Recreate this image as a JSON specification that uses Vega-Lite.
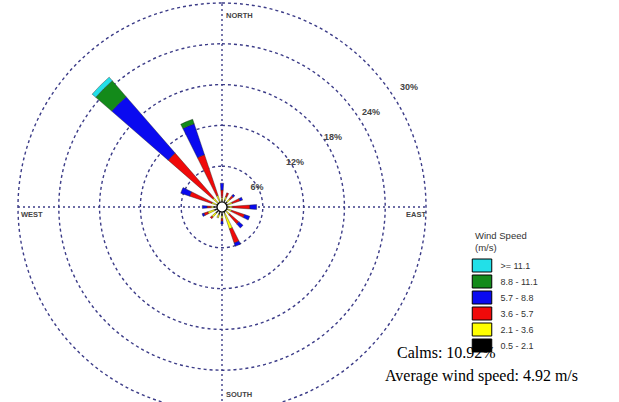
{
  "$schema": "https://vega.github.io/schema/vega-lite/v6.json",
  "width": 619,
  "height": 402,
  "autosize": "none",
  "padding": 0,
  "background": "white",
  "resolve": {"scale": {"radius": "independent"}},
  "config": {
    "view": {"stroke": null},
    "font": "Liberation Sans",
    "legend": {
      "orient": "none",
      "legendX": 475,
      "legendY": 231,
      "titleFontSize": 9.5,
      "titleFontWeight": "normal",
      "titleColor": "#333333",
      "titleLineHeight": 12,
      "titlePadding": 6,
      "labelFontSize": 9,
      "labelColor": "#333333",
      "labelOffset": 11.5,
      "symbolType": "M-1.5,-1H1.5V1H-1.5Z",
      "symbolSize": 169,
      "symbolStrokeColor": "black",
      "symbolStrokeWidth": 1,
      "rowPadding": -2.2
    }
  },
  "title": {
    "text": "\u200b\u00a0\u00a0\u00a0Calms: 10.92%",
    "subtitle": "Average wind speed: 4.92 m/s",
    "anchor": "start",
    "frame": "group",
    "orient": "bottom",
    "dx": 385,
    "dy": -69,
    "offset": 0,
    "font": "Liberation Serif",
    "fontSize": 16,
    "fontWeight": "normal",
    "color": "black",
    "subtitleFont": "Liberation Serif",
    "subtitleFontSize": 16,
    "subtitleColor": "black",
    "subtitlePadding": 7
  },
  "datasets": {
    "petals": [
      {"dir": 0, "cls": "0.5 - 2.1", "pct": 0.9},
      {"dir": 0, "cls": "2.1 - 3.6", "pct": 0.5},
      {"dir": 0, "cls": "3.6 - 5.7", "pct": 1.1},
      {"dir": 0, "cls": "5.7 - 8.8", "pct": 1.0},
      {"dir": 22.5, "cls": "0.5 - 2.1", "pct": 1.1},
      {"dir": 22.5, "cls": "2.1 - 3.6", "pct": 0.5},
      {"dir": 22.5, "cls": "3.6 - 5.7", "pct": 0.6},
      {"dir": 45, "cls": "0.5 - 2.1", "pct": 1.0},
      {"dir": 45, "cls": "2.1 - 3.6", "pct": 0.6},
      {"dir": 45, "cls": "3.6 - 5.7", "pct": 0.6},
      {"dir": 45, "cls": "5.7 - 8.8", "pct": 0.3},
      {"dir": 67.5, "cls": "0.5 - 2.1", "pct": 0.9},
      {"dir": 67.5, "cls": "2.1 - 3.6", "pct": 0.7},
      {"dir": 67.5, "cls": "3.6 - 5.7", "pct": 1.2},
      {"dir": 67.5, "cls": "5.7 - 8.8", "pct": 0.4},
      {"dir": 90, "cls": "0.5 - 2.1", "pct": 0.9},
      {"dir": 90, "cls": "2.1 - 3.6", "pct": 0.6},
      {"dir": 90, "cls": "3.6 - 5.7", "pct": 2.6},
      {"dir": 90, "cls": "5.7 - 8.8", "pct": 1.0},
      {"dir": 112.5, "cls": "0.5 - 2.1", "pct": 0.9},
      {"dir": 112.5, "cls": "2.1 - 3.6", "pct": 0.6},
      {"dir": 112.5, "cls": "3.6 - 5.7", "pct": 2.0},
      {"dir": 112.5, "cls": "5.7 - 8.8", "pct": 0.8},
      {"dir": 135, "cls": "0.5 - 2.1", "pct": 0.8},
      {"dir": 135, "cls": "2.1 - 3.6", "pct": 0.7},
      {"dir": 135, "cls": "3.6 - 5.7", "pct": 1.8},
      {"dir": 135, "cls": "5.7 - 8.8", "pct": 0.8},
      {"dir": 157.5, "cls": "0.5 - 2.1", "pct": 1.0},
      {"dir": 157.5, "cls": "2.1 - 3.6", "pct": 2.4},
      {"dir": 157.5, "cls": "3.6 - 5.7", "pct": 2.2},
      {"dir": 157.5, "cls": "5.7 - 8.8", "pct": 0.5},
      {"dir": 180, "cls": "0.5 - 2.1", "pct": 1.3},
      {"dir": 180, "cls": "2.1 - 3.6", "pct": 0.4},
      {"dir": 180, "cls": "3.6 - 5.7", "pct": 0.4},
      {"dir": 180, "cls": "5.7 - 8.8", "pct": 0.4},
      {"dir": 202.5, "cls": "0.5 - 2.1", "pct": 1.2},
      {"dir": 202.5, "cls": "2.1 - 3.6", "pct": 0.5},
      {"dir": 225, "cls": "0.5 - 2.1", "pct": 1.2},
      {"dir": 225, "cls": "2.1 - 3.6", "pct": 0.8},
      {"dir": 225, "cls": "3.6 - 5.7", "pct": 0.3},
      {"dir": 247.5, "cls": "0.5 - 2.1", "pct": 1.2},
      {"dir": 247.5, "cls": "2.1 - 3.6", "pct": 1.0},
      {"dir": 247.5, "cls": "3.6 - 5.7", "pct": 0.6},
      {"dir": 247.5, "cls": "5.7 - 8.8", "pct": 0.3},
      {"dir": 270, "cls": "0.5 - 2.1", "pct": 1.2},
      {"dir": 270, "cls": "2.1 - 3.6", "pct": 0.4},
      {"dir": 270, "cls": "3.6 - 5.7", "pct": 0.6},
      {"dir": 270, "cls": "5.7 - 8.8", "pct": 0.7},
      {"dir": 292.5, "cls": "0.5 - 2.1", "pct": 0.9},
      {"dir": 292.5, "cls": "2.1 - 3.6", "pct": 0.7},
      {"dir": 292.5, "cls": "3.6 - 5.7", "pct": 3.4},
      {"dir": 292.5, "cls": "5.7 - 8.8", "pct": 1.4},
      {"dir": 315, "cls": "0.5 - 2.1", "pct": 0.8},
      {"dir": 315, "cls": "2.1 - 3.6", "pct": 1.0},
      {"dir": 315, "cls": "3.6 - 5.7", "pct": 8.7},
      {"dir": 315, "cls": "5.7 - 8.8", "pct": 11.0},
      {"dir": 315, "cls": "8.8 - 11.1", "pct": 3.1},
      {"dir": 315, "cls": ">= 11.1", "pct": 0.7},
      {"dir": 337.5, "cls": "0.5 - 2.1", "pct": 0.9},
      {"dir": 337.5, "cls": "2.1 - 3.6", "pct": 0.9},
      {"dir": 337.5, "cls": "3.6 - 5.7", "pct": 6.3},
      {"dir": 337.5, "cls": "5.7 - 8.8", "pct": 4.8},
      {"dir": 337.5, "cls": "8.8 - 11.1", "pct": 0.7}
    ],
    "rings": [
      {"ring": 6, "label": "6%"},
      {"ring": 12, "label": "12%"},
      {"ring": 18, "label": "18%"},
      {"ring": 24, "label": "24%"},
      {"ring": 30, "label": "30%"}
    ],
    "compass": [
      {"label": "NORTH", "dir": 0},
      {"label": "EAST", "dir": 90},
      {"label": "SOUTH", "dir": 180},
      {"label": "WEST", "dir": 270}
    ],
    "axes": [{"a": -30, "b": 30}]
  },
  "layer": [
    {
      "data": {"name": "axes"},
      "mark": {"type": "rule", "stroke": "#3c3c88", "strokeDash": [2, 3], "strokeWidth": 1.4},
      "encoding": {
        "x": {"field": "a", "type": "quantitative", "scale": {"domain": [-32.647, 58.382], "nice": false, "zero": false}, "axis": null},
        "x2": {"field": "b"},
        "y": {"datum": 0, "type": "quantitative", "scale": {"domain": [-28.676, 30.441], "nice": false, "zero": false}, "axis": null}
      }
    },
    {
      "data": {"name": "axes"},
      "mark": {"type": "rule", "stroke": "#3c3c88", "strokeDash": [2, 3], "strokeWidth": 1.4},
      "encoding": {
        "y": {"field": "a", "type": "quantitative", "scale": {"domain": [-28.676, 30.441], "nice": false, "zero": false}, "axis": null},
        "y2": {"field": "b"},
        "x": {"datum": 0, "type": "quantitative", "scale": {"domain": [-32.647, 58.382], "nice": false, "zero": false}, "axis": null}
      }
    },
    {
      "data": {"name": "rings"},
      "mark": {"type": "arc", "theta": 0, "theta2": 6.2832, "fillOpacity": 0, "stroke": "#3c3c88", "strokeDash": [3, 3], "strokeWidth": 1.4},
      "encoding": {
        "x": {"datum": 0, "type": "quantitative", "scale": {"domain": [-32.647, 58.382], "nice": false, "zero": false}, "axis": null},
        "y": {"datum": 0, "type": "quantitative", "scale": {"domain": [-28.676, 30.441], "nice": false, "zero": false}, "axis": null},
        "radius": {"field": "ring", "type": "quantitative", "stack": null, "scale": {"type": "linear", "domain": [0, 30], "range": [0, 204], "zero": true, "nice": false}}
      }
    },
    {
      "data": {"name": "petals"},
      "transform": [
        {"stack": "pct", "groupby": ["dir"], "sort": [{"field": "cls", "order": "ascending"}], "as": ["r0", "r1"]}
      ],
      "mark": {"type": "arc", "thetaOffset": -0.07, "theta2Offset": 0.07, "stroke": "#222222", "strokeWidth": 0.4},
      "encoding": {
        "x": {"datum": 0, "type": "quantitative", "scale": {"domain": [-32.647, 58.382], "nice": false, "zero": false}, "axis": null},
        "y": {"datum": 0, "type": "quantitative", "scale": {"domain": [-28.676, 30.441], "nice": false, "zero": false}, "axis": null},
        "theta": {"field": "dir", "type": "quantitative", "stack": null, "scale": {"type": "linear", "domain": [0, 360], "range": [0, 6.283185], "zero": true, "nice": false}},
        "theta2": {"field": "dir"},
        "radius": {"field": "r1", "type": "quantitative", "stack": null, "scale": {"type": "linear", "domain": [0, 30], "range": [0, 204], "zero": true, "nice": false}},
        "radius2": {"field": "r0"},
        "color": {
          "field": "cls",
          "type": "nominal",
          "title": ["Wind Speed", "(m/s)"],
          "scale": {
            "domain": [">= 11.1", "8.8 - 11.1", "5.7 - 8.8", "3.6 - 5.7", "2.1 - 3.6", "0.5 - 2.1"],
            "range": ["#22e0e8", "#138a1a", "#0a0af0", "#f00a0a", "#ffff00", "#000000"]
          }
        }
      }
    },
    {
      "data": {"values": [{"calms": 10.92}]},
      "mark": {"type": "arc", "theta": 0, "theta2": 6.2832, "radius": 5, "fill": "white", "stroke": "black", "strokeWidth": 1.2},
      "encoding": {
        "x": {"datum": 0, "type": "quantitative", "scale": {"domain": [-32.647, 58.382], "nice": false, "zero": false}, "axis": null},
        "y": {"datum": 0, "type": "quantitative", "scale": {"domain": [-28.676, 30.441], "nice": false, "zero": false}, "axis": null}
      }
    },
    {
      "data": {"name": "rings"},
      "mark": {"type": "text", "theta": 0.99, "dx": -3, "dy": 5, "fontSize": 9, "fontWeight": "bold", "fill": "#444444", "align": "center", "baseline": "middle"},
      "encoding": {
        "x": {"datum": 0, "type": "quantitative", "scale": {"domain": [-32.647, 58.382], "nice": false, "zero": false}, "axis": null},
        "y": {"datum": 0, "type": "quantitative", "scale": {"domain": [-28.676, 30.441], "nice": false, "zero": false}, "axis": null},
        "radius": {"field": "ring", "type": "quantitative", "stack": null, "scale": {"type": "linear", "domain": [0, 30], "range": [0, 227.4], "zero": true, "nice": false}},
        "text": {"field": "label"}
      }
    },
    {
      "data": {"name": "compass"},
      "transform": [{"filter": "datum.label === 'NORTH'"}],
      "mark": {"type": "text", "align": "left", "baseline": "middle", "dx": 4, "dy": 1, "fontSize": 7.5, "fontWeight": "bold", "fill": "#444444"},
      "encoding": {
        "x": {"datum": 0, "type": "quantitative", "scale": {"domain": [-32.647, 58.382], "nice": false, "zero": false}, "axis": null},
        "y": {"datum": 0, "type": "quantitative", "scale": {"domain": [-28.676, 30.441], "nice": false, "zero": false}, "axis": null},
        "theta": {"field": "dir", "type": "quantitative", "scale": {"type": "linear", "domain": [0, 360], "range": [0, 6.283185], "zero": true, "nice": false}},
        "radius": {"datum": 28.3, "type": "quantitative", "scale": {"type": "linear", "domain": [0, 30], "range": [0, 204], "zero": true, "nice": false}},
        "text": {"field": "label"}
      }
    },
    {
      "data": {"name": "compass"},
      "transform": [{"filter": "datum.label === 'SOUTH'"}],
      "mark": {"type": "text", "align": "left", "baseline": "middle", "dx": 4, "dy": -4, "fontSize": 7.5, "fontWeight": "bold", "fill": "#444444"},
      "encoding": {
        "x": {"datum": 0, "type": "quantitative", "scale": {"domain": [-32.647, 58.382], "nice": false, "zero": false}, "axis": null},
        "y": {"datum": 0, "type": "quantitative", "scale": {"domain": [-28.676, 30.441], "nice": false, "zero": false}, "axis": null},
        "theta": {"field": "dir", "type": "quantitative", "scale": {"type": "linear", "domain": [0, 360], "range": [0, 6.283185], "zero": true, "nice": false}},
        "radius": {"datum": 28.3, "type": "quantitative", "scale": {"type": "linear", "domain": [0, 30], "range": [0, 204], "zero": true, "nice": false}},
        "text": {"field": "label"}
      }
    },
    {
      "data": {"name": "compass"},
      "transform": [{"filter": "datum.label === 'WEST'"}],
      "mark": {"type": "text", "align": "left", "baseline": "middle", "dx": 3, "dy": 8, "fontSize": 7.5, "fontWeight": "bold", "fill": "#444444"},
      "encoding": {
        "x": {"datum": 0, "type": "quantitative", "scale": {"domain": [-32.647, 58.382], "nice": false, "zero": false}, "axis": null},
        "y": {"datum": 0, "type": "quantitative", "scale": {"domain": [-28.676, 30.441], "nice": false, "zero": false}, "axis": null},
        "theta": {"field": "dir", "type": "quantitative", "scale": {"type": "linear", "domain": [0, 360], "range": [0, 6.283185], "zero": true, "nice": false}},
        "radius": {"datum": 30, "type": "quantitative", "scale": {"type": "linear", "domain": [0, 30], "range": [0, 204], "zero": true, "nice": false}},
        "text": {"field": "label"}
      }
    },
    {
      "data": {"name": "compass"},
      "transform": [{"filter": "datum.label === 'EAST'"}],
      "mark": {"type": "text", "align": "right", "baseline": "middle", "dx": 0, "dy": 8, "fontSize": 7.5, "fontWeight": "bold", "fill": "#444444"},
      "encoding": {
        "x": {"datum": 0, "type": "quantitative", "scale": {"domain": [-32.647, 58.382], "nice": false, "zero": false}, "axis": null},
        "y": {"datum": 0, "type": "quantitative", "scale": {"domain": [-28.676, 30.441], "nice": false, "zero": false}, "axis": null},
        "theta": {"field": "dir", "type": "quantitative", "scale": {"type": "linear", "domain": [0, 360], "range": [0, 6.283185], "zero": true, "nice": false}},
        "radius": {"datum": 30, "type": "quantitative", "scale": {"type": "linear", "domain": [0, 30], "range": [0, 204], "zero": true, "nice": false}},
        "text": {"field": "label"}
      }
    }
  ]
}
